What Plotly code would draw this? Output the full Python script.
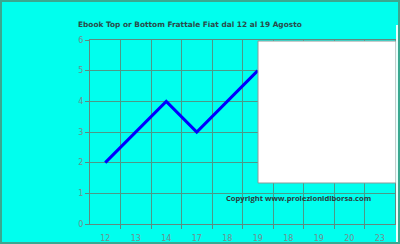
import plotly.graph_objects as go

categories = ["12", "13", "14", "17", "18", "19", "18", "19", "20", "23"]
values = [2, 3, 4, 3, 4, 5, None, None, None, None]
y_ticks = [0, 1, 2, 3, 4, 5, 6]

xpos = list(range(len(categories)))

fig = go.Figure()
fig.add_trace(go.Scatter(x=xpos, y=values, mode="lines",
                         line=dict(color="#0000FF", width=3), connectgaps=False,
                         hoverinfo="skip"))

grid = "#4a9a88"
axc = "#5f8a80"
fig.update_layout(
    width=400, height=244,
    margin=dict(l=90, r=5, t=40, b=20, autoexpand=False),
    paper_bgcolor="#00FFEE", plot_bgcolor="#00FFEE",
    showlegend=False,
    font=dict(family="DejaVu Sans", size=8, color="#6f8f8f"),
    xaxis=dict(range=[-0.5, len(categories) - 0.5], tickvals=xpos, ticktext=categories,
               showgrid=False, ticks="", showline=True, linecolor=axc, linewidth=1,
               mirror=True, zeroline=False, fixedrange=True, ticklabelstandoff=6,
               automargin=False,
               minor=dict(tickvals=[i + 0.5 for i in xpos[:-1]], showgrid=True,
                          gridcolor=grid, gridwidth=1, ticks="outside", ticklen=4,
                          tickcolor=axc)),
    yaxis=dict(range=[0, 6], tickvals=y_ticks, showgrid=True, gridcolor=grid, gridwidth=1,
               ticks="outside", ticklen=4, tickcolor=axc, showline=True,
               linecolor=axc, linewidth=1, mirror=True, zeroline=False,
               fixedrange=True, automargin=False),
)

# white box overlay
fig.add_shape(type="rect", xref="paper", yref="paper",
              x0=(258 - 90) / 305, x1=(396 - 90) / 305,
              y0=(224 - 183) / 184, y1=(224 - 41) / 184,
              fillcolor="white", line=dict(color="#8a9a98", width=1), layer="above")
# right white line
fig.add_shape(type="line", xref="paper", yref="paper",
              x0=(397 - 90) / 305, x1=(397 - 90) / 305,
              y0=(224 - 244) / 184, y1=(224 - 25) / 184,
              line=dict(color="#e8fffc", width=2), layer="above")
# outer border
fig.add_shape(type="rect", xref="paper", yref="paper",
              x0=(1 - 90) / 305, x1=(399 - 90) / 305,
              y0=(224 - 243) / 184, y1=(224 - 1) / 184,
              line=dict(color="#3aa890", width=2), layer="above")

fig.add_annotation(text="<b>Ebook Top or Bottom Frattale Fiat dal 12 al 19 Agosto</b>",
                   xref="paper", yref="paper", x=(76 - 90) / 305, y=(224 - 25) / 184,
                   xanchor="left", yanchor="middle", showarrow=False,
                   font=dict(family="DejaVu Sans", size=7.4, color="#2a4a4a"))
fig.add_annotation(text="<b>Copyright www.proiezionidiborsa.com</b>",
                   xref="paper", yref="paper", x=(224 - 90) / 305, y=(224 - 198) / 184,
                   xanchor="left", yanchor="middle", showarrow=False,
                   font=dict(family="Open Sans", size=7.6, color="#2a3a3a"))

fig.write_html("out.html")
